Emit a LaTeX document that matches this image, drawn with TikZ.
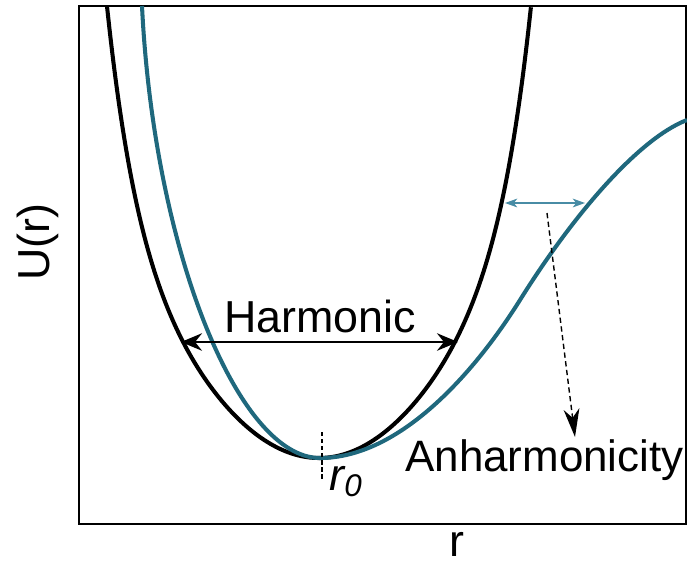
\documentclass[tikz,border=0pt]{standalone}
\usepackage{fontspec}
\setmainfont{Liberation Sans}
\usetikzlibrary{arrows.meta}
\definecolor{morseteal}{RGB}{31,104,125}
\definecolor{gapblue}{RGB}{72,140,165}

\begin{document}
\begin{tikzpicture}[
    x=0.02cm, y=-0.02cm,
    every node/.style={inner sep=0pt, font=\fontsize{25.5}{30}\selectfont},
    frame/.style={line width=1.5pt},
    harmonic/.style={black, line width=2.3pt},
    morse/.style={morseteal, line width=2.3pt},
    arrow/.style={{Stealth[length=12pt,width=10pt,inset=4pt]}-{Stealth[length=12pt,width=10pt,inset=4pt]}, line width=0.9pt},
    gaparrow/.style={gapblue, {Stealth[length=7pt,width=5pt,inset=2pt]}-{Stealth[length=7pt,width=5pt,inset=2pt]}, line width=0.9pt},
    dasharrow/.style={-{Stealth[length=16pt,width=9pt,inset=5pt]}, dash pattern=on 3pt off 2pt, line width=0.8pt},
]
\useasboundingbox (0,0) rectangle (687,562);
% Axes frame
\draw[frame] (79,6) rectangle (686,524);
% Harmonic well
\draw[harmonic] plot[domain=-1:1, samples=141, smooth]
    ({319+212*\x}, {458-269.7*\x*\x-182*(\x*\x)^4});
% Anharmonic well
\draw[morse] (142,6) .. controls (154,250) and (238,458) .. (320,458)
    .. controls (400,458) and (475,372) .. (520,300)
    .. controls (575,212) and (640,138) .. (687,120);
% Points for the arrows
\coordinate (hL) at (181,342);
\coordinate (hR) at (458,342);
\coordinate (gL) at (505,203);
\coordinate (gR) at (585,203);
\coordinate (aTop) at (547,213);
\coordinate (aTip) at (575,437);
\coordinate (r0a) at (322,432);
\coordinate (r0b) at (322,480);
% Arrows
\draw[arrow] (hL) -- (hR);
\draw[gaparrow] (gL) -- (gR);
\draw[dasharrow] (aTop) -- (aTip);
\draw[line width=0.7pt, dash pattern=on 2.5pt off 1.5pt] (r0a) -- (r0b);
% Labels
\node[anchor=base] (harm) at (320,332) {Harmonic};
\node[anchor=base west, font=\fontsize{25}{30}\selectfont] (anharm) at (405,471) {Anharmonicity};
\node[anchor=base west] (rzero) at (329,490) {\itshape r\textsubscript{0}};
\node[anchor=base, rotate=90] (ylab) at (50,242) {U(r)};
\node[anchor=base] (xlab) at (457,556) {r};
\end{tikzpicture}
\end{document}
